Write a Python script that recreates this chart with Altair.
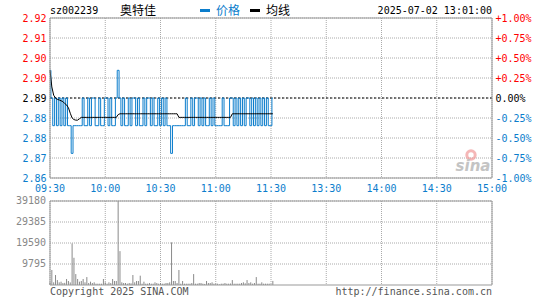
import altair as alt
import pandas as pd

# ---------------- data ----------------
PREV_CLOSE = 2.89
STOCK_CODE = "sz002239"
STOCK_NAME = "奥特佳"
STAMP = "2025-07-02 13:01:00"

price = [2.90, 2.89, 2.88, 2.89, 2.88, 2.89, 2.88, 2.89, 2.88, 2.89,
         2.88, 2.88, 2.87, 2.88, 2.88, 2.88, 2.88, 2.88, 2.89, 2.88,
         2.88, 2.89, 2.88, 2.89, 2.89, 2.88, 2.88, 2.89, 2.88, 2.88,
         2.89, 2.89, 2.88, 2.89, 2.88, 2.88, 2.89, 2.90, 2.89, 2.88,
         2.89, 2.88, 2.88, 2.89, 2.88, 2.89, 2.89, 2.88, 2.89, 2.88,
         2.88, 2.89, 2.88, 2.89, 2.89, 2.88, 2.89, 2.88, 2.88, 2.89,
         2.88, 2.89, 2.88, 2.89, 2.88, 2.88, 2.87, 2.88, 2.88, 2.88,
         2.88, 2.88, 2.88, 2.88, 2.89, 2.88, 2.88, 2.89, 2.88, 2.89,
         2.89, 2.88, 2.89, 2.88, 2.89, 2.88, 2.88, 2.89, 2.88, 2.89,
         2.88, 2.88, 2.88, 2.88, 2.89, 2.88, 2.88, 2.88, 2.89, 2.89,
         2.88, 2.89, 2.88, 2.89, 2.88, 2.89, 2.88, 2.89, 2.89, 2.88,
         2.89, 2.88, 2.89, 2.88, 2.89, 2.88, 2.89, 2.88, 2.89, 2.88,
         2.88, 2.89]

avg = [2.9000, 2.8940, 2.8910, 2.8900, 2.8895, 2.8893, 2.8890, 2.8887, 2.8880, 2.8875,
       2.8865, 2.8845, 2.8828, 2.8822, 2.8820, 2.8820, 2.8825, 2.8830, 2.8830, 2.8830,
       2.8830, 2.8830, 2.8830, 2.8830, 2.8830, 2.8830, 2.8830, 2.8830, 2.8830, 2.8830,
       2.8830, 2.8830, 2.8830, 2.8830, 2.8830, 2.8830, 2.8830, 2.8840, 2.8843, 2.8843,
       2.8843, 2.8843, 2.8843, 2.8843, 2.8843, 2.8843, 2.8843, 2.8843, 2.8843, 2.8843,
       2.8843, 2.8843, 2.8843, 2.8843, 2.8843, 2.8843, 2.8843, 2.8843, 2.8843, 2.8843,
       2.8843, 2.8843, 2.8843, 2.8843, 2.8843, 2.8843, 2.8843, 2.8843, 2.8843, 2.8843,
       2.8830, 2.8830, 2.8830, 2.8830, 2.8830, 2.8830, 2.8830, 2.8830, 2.8830, 2.8830,
       2.8830, 2.8830, 2.8830, 2.8830, 2.8830, 2.8830, 2.8830, 2.8830, 2.8830, 2.8830,
       2.8830, 2.8830, 2.8830, 2.8830, 2.8830, 2.8830, 2.8830, 2.8830, 2.8830, 2.8843,
       2.8843, 2.8843, 2.8843, 2.8843, 2.8843, 2.8843, 2.8843, 2.8843, 2.8843, 2.8843,
       2.8843, 2.8843, 2.8843, 2.8843, 2.8843, 2.8843, 2.8843, 2.8843, 2.8843, 2.8843,
       2.8843, 2.8843]

volume = [1200, 7000, 1240, 4650, 2300, 1240, 1550, 930, 1000, 2800,
          1860, 1200, 19400, 12700, 5100, 2800, 1550, 1860, 2800, 1240,
          3700, 930, 1550, 930, 1240, 620, 620, 620, 620, 2800,
          1240, 620, 1240, 900, 2800, 1860, 1860, 39180, 15800, 1240,
          930, 930, 620, 930, 800, 4650, 1240, 1860, 1860, 4350,
          620, 1550, 620, 620, 930, 620, 620, 1240, 930, 620,
          930, 620, 620, 930, 930, 1240, 19900, 1860, 1860, 930,
          7000, 620, 1860, 620, 620, 620, 620, 930, 5100, 620,
          620, 930, 930, 620, 500, 1860, 930, 930, 1240, 620,
          620, 620, 310, 620, 620, 930, 620, 620, 700, 2300,
          620, 620, 620, 620, 930, 1240, 800, 2300, 930, 1240,
          620, 930, 3700, 620, 620, 1240, 620, 620, 620, 620,
          300, 1900]

time_labels = ["09:30", "10:00", "10:30", "11:00", "11:30",
               "13:30", "14:00", "14:30", "15:00"]
time_ticks = [0, 30, 60, 90, 120, 150, 180, 210, 240]
pct_ticks = [-1.0, -0.75, -0.5, -0.25, 0.0, 0.25, 0.5, 0.75, 1.0]
vol_ticks = [9795, 19590, 29385, 39180]
VOL_MAX = 39180

# ---------------- layout / styling ----------------
BLUE = "#0b7dcc"
RED = "#ff0000"
GRID = "#aaaaaa"
BORDER = "#999999"
MONO = "DejaVu Sans Mono"
CJK = "Noto Sans CJK SC"
W = 442            # plot width
PH = 160           # price panel height
VT, VB = 183, 267  # volume panel top / bottom inside the view
H = VB

df = pd.DataFrame({"i": list(range(len(price))), "price": price, "avg": avg})
vdf = pd.DataFrame({"i": list(range(len(volume))), "vol": volume})
tdf = pd.DataFrame({"tick": time_ticks, "label": time_labels})
vtdf = pd.DataFrame({"v": vol_ticks})

lo = PREV_CLOSE * (1 + pct_ticks[0] / 100)
hi = PREV_CLOSE * (1 + pct_ticks[-1] / 100)
price_ticks = [round(PREV_CLOSE * (1 + p / 100), 6) for p in pct_ticks]
pdf = pd.DataFrame({"p": price_ticks})

yscale = alt.Scale(domain=[lo, hi], nice=False, zero=False, range=[PH, 0])
vscale = alt.Scale(domain=[0, VOL_MAX], nice=False, range=[VB, VT])
xscale = alt.Scale(domain=[0, 240], nice=False, zero=False)

color_expr = (f"datum.value > {PREV_CLOSE + 0.0001} ? '{RED}' : "
              f"(datum.value < {PREV_CLOSE - 0.0001} ? '{BLUE}' : '#000000')")
pv = f"(round((datum.value/{PREV_CLOSE}-1)*10000)/100)"
pct_expr = f"({pv} > 0 ? '+' : ({pv} < 0 ? '-' : '')) + format(abs({pv}), '.2f') + '%'"

left_axis = alt.Axis(orient="left", values=price_ticks,
                     labelExpr="format(datum.value, '.2f')",
                     labelColor={"expr": color_expr}, grid=False, ticks=False,
                     domain=False, labelFont=MONO, labelFontSize=10, labelPadding=4,
                     title=None)
right_axis = alt.Axis(orient="right", values=price_ticks, labelExpr=pct_expr,
                      labelColor={"expr": color_expr}, grid=False, ticks=False,
                      domain=False, labelFont=MONO, labelFontSize=10, labelPadding=3,
                      title=None)

X = alt.X("i:Q", scale=xscale, axis=None)

# grid lines
price_grid = alt.Chart(pdf).mark_rule(color=GRID, strokeDash=[1, 1], strokeWidth=1).encode(
    y=alt.Y("p:Q", scale=yscale, axis=None), x=alt.value(0), x2=alt.value(W))
time_grid_top = alt.Chart(tdf).mark_rule(color=GRID, strokeDash=[1, 1], strokeWidth=1).encode(
    x=alt.X("tick:Q", scale=xscale, axis=None), y=alt.value(0), y2=alt.value(PH))
time_grid_bot = alt.Chart(tdf).mark_rule(color=GRID, strokeDash=[1, 1], strokeWidth=1).encode(
    x=alt.X("tick:Q", scale=xscale, axis=None), y=alt.value(VT), y2=alt.value(VB))
vol_grid = alt.Chart(vtdf).mark_rule(color=GRID, strokeDash=[1, 1], strokeWidth=1).encode(
    y=alt.Y("v:Q", scale=vscale, axis=None), x=alt.value(0), x2=alt.value(W))

prev_rule = alt.Chart(pd.DataFrame({"p": [PREV_CLOSE]})).mark_rule(
    color="#000000", strokeDash=[2, 2], strokeWidth=1
).encode(y=alt.Y("p:Q", scale=yscale, axis=None), x=alt.value(0), x2=alt.value(W))

base = alt.Chart(df)
price_line = base.mark_line(color=BLUE, strokeWidth=1, interpolate="step").encode(
    x=X, y=alt.Y("price:Q", scale=yscale, axis=left_axis))
avg_line = base.mark_line(color="#000000", strokeWidth=1).encode(
    x=X, y=alt.Y("avg:Q", scale=yscale, axis=right_axis))

vol_bars = alt.Chart(vdf).mark_rule(color="#8a8a8a", strokeWidth=1).encode(
    x=X, y=alt.Y("vol:Q", scale=vscale, axis=None), y2=alt.value(VB))

time_text = alt.Chart(tdf).mark_text(
    font=MONO, fontSize=10, color=BLUE, baseline="middle", align="center"
).encode(x=alt.X("tick:Q", scale=xscale, axis=None), y=alt.value(171), text="label:N")

vol_text = alt.Chart(vtdf).mark_text(
    font=MONO, fontSize=10, color="#888888", baseline="middle", align="right"
).encode(x=alt.value(-4), y=alt.Y("v:Q", scale=vscale, axis=None), text=alt.Text("v:Q", format="d"))


def box(y0, y1):
    return alt.Chart(pd.DataFrame({"a": [0]})).mark_rect(
        fillOpacity=0, stroke=BORDER, strokeWidth=1
    ).encode(x=alt.value(0), x2=alt.value(W), y=alt.value(y0), y2=alt.value(y1))


def label(text, x, y, align="left", font=MONO, size=10, color="#000000",
          weight="normal", style="normal"):
    return alt.Chart(pd.DataFrame({"t": [text]})).mark_text(
        align=align, baseline="middle", font=font, fontSize=size, color=color,
        fontWeight=weight, fontStyle=style
    ).encode(x=alt.value(x), y=alt.value(y), text="t:N")


def swatch(x0, color):
    return alt.Chart(pd.DataFrame({"a": [0]})).mark_rule(
        color=color, strokeWidth=3).encode(x=alt.value(x0), x2=alt.value(x0 + 10),
                                           y=alt.value(-7.5))


logo = alt.Chart(pd.DataFrame({"a": [0]})).mark_point(
    shape="circle", filled=False, strokeWidth=3, color="#f19a9a", opacity=0.7, size=70
).encode(x=alt.value(421), y=alt.value(137))

chart = alt.layer(
    price_grid, time_grid_top, time_grid_bot, vol_grid,
    prev_rule, vol_bars, price_line, avg_line,
    box(0, PH), box(VT, VB),
    time_text, vol_text,
    label(STOCK_CODE, 0, -7),
    label(STOCK_NAME, 70, -7, font=CJK, size=12),
    swatch(150, BLUE),
    label("价格", 166, -7, font=CJK, size=12, color=BLUE),
    swatch(200, "#000000"),
    label("均线", 216, -7, font=CJK, size=12),
    label(STAMP, W, -7, align="right"),
    logo,
    label("sina", 423, 148, align="center", font="DejaVu Sans", size=15,
          color="#c4c4c4", weight="bold", style="italic"),
    label("Copyright 2025 SINA.COM", 0, 274, color="#555555"),
    label("http://finance.sina.com.cn", W, 274, align="right", color="#555555"),
).resolve_scale(y="independent").properties(
    width=W, height=H,
    padding={"left": 50, "top": 18, "right": 53, "bottom": 15},
    autosize="none",
    background="white",
).configure_view(stroke=None)

chart.save("out.html", embed_options={"renderer": "svg", "actions": False})
